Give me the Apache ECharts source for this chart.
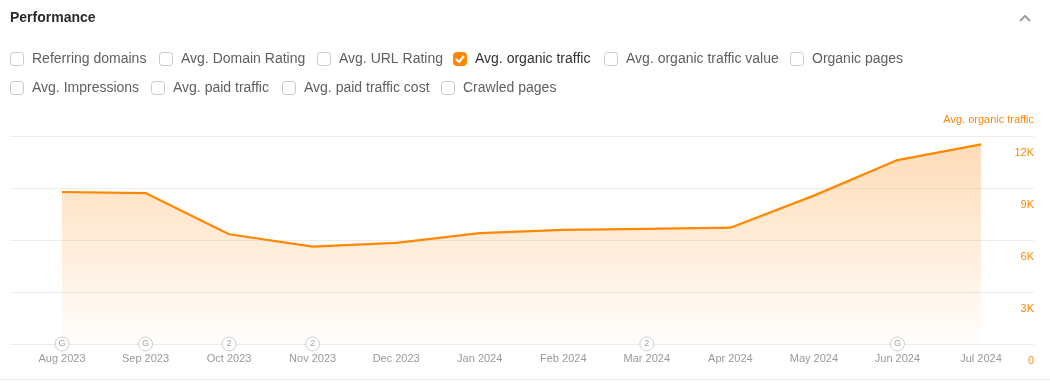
<!DOCTYPE html>
<html>
<head>
<meta charset="utf-8">
<script src="https://cdn.jsdelivr.net/npm/echarts@6/dist/echarts.min.js"></script>
<style>
html,body{margin:0;padding:0;background:#fff;}
#chart{width:1050px;height:388px;}
</style>
</head>
<body>
<div id="chart"></div>
<script>
// ---- data ----
const months = ['Aug 2023','Sep 2023','Oct 2023','Nov 2023','Dec 2023','Jan 2024','Feb 2024','Mar 2024','Apr 2024','May 2024','Jun 2024','Jul 2024'];
const organicTraffic = [8770, 8710, 6330, 5620, 5830, 6400, 6580, 6640, 6710, 8560, 10610, 11520];
const annotationMonths = ['Aug 2023','Sep 2023','Oct 2023','Nov 2023','Mar 2024','Jun 2024'];
const annotationTexts = ['G','G','2','2','2','G'];
const yTicks = [0, 3000, 6000, 9000, 12000];
const yTickLabels = ['0','3K','6K','9K','12K'];
const axisTitle = 'Avg. organic traffic';
const metricsRow1 = ['Referring domains','Avg. Domain Rating','Avg. URL Rating','Avg. organic traffic','Avg. organic traffic value','Organic pages'];
const metricsRow2 = ['Avg. Impressions','Avg. paid traffic','Avg. paid traffic cost','Crawled pages'];
const checkedMetric = 'Avg. organic traffic';

const FONT = '"Liberation Sans", Arial, Helvetica, sans-serif';
const ORANGE = '#ff8800';

// checkbox layout (left x of each box)
const row1X = [10, 159, 317, 453, 604, 790];
const row2X = [10, 151, 282, 441];

function checkbox(label, x, y) {
  const checked = label === checkedMetric;
  const els = [];
  els.push({
    type: 'rect',
    shape: { x: x + 0.5, y: y - 6.5, width: 13, height: 13, r: 3 },
    style: checked ? { fill: ORANGE, stroke: ORANGE, lineWidth: 1 } : { fill: '#fff', stroke: '#c9c9c9', lineWidth: 1 },
    silent: true
  });
  if (checked) {
    els.push({
      type: 'polyline',
      shape: { points: [[x + 3.5, y + 0.5], [x + 6, y + 3], [x + 10.5, y - 2.5]] },
      style: { stroke: '#fff', lineWidth: 2, fill: null, lineCap: 'round', lineJoin: 'round' },
      silent: true
    });
  }
  els.push({
    type: 'text',
    style: {
      text: label, x: x + 22, y: y, verticalAlign: 'middle',
      font: '14px ' + FONT, fill: checked ? '#333333' : '#5f5f63'
    },
    silent: true
  });
  return els;
}

let graphics = [];
graphics.push({
  type: 'text',
  style: { text: 'Performance', x: 10, y: 18, verticalAlign: 'middle', font: 'bold 14px ' + FONT, fill: '#2b2b2b' },
  silent: true
});
graphics.push({
  type: 'polyline',
  shape: { points: [[1020, 21], [1025, 16], [1030, 21]] },
  style: { stroke: '#a0a0a0', lineWidth: 2, fill: null },
  silent: true
});
metricsRow1.forEach((m, i) => { graphics = graphics.concat(checkbox(m, row1X[i], 59)); });
metricsRow2.forEach((m, i) => { graphics = graphics.concat(checkbox(m, row2X[i], 88)); });
graphics.push({
  type: 'text',
  style: { text: axisTitle, x: 1034, y: 120, align: 'right', verticalAlign: 'middle', font: '11px ' + FONT, fill: ORANGE },
  silent: true
});
graphics.push({
  type: 'line',
  shape: { x1: 0, y1: 379.5, x2: 1050, y2: 379.5 },
  style: { stroke: '#e8e8e8', lineWidth: 1 },
  silent: true
});

const chart = echarts.init(document.getElementById('chart'), null, { renderer: 'canvas' });

const annotData = annotationMonths.map((m, i) => ({
  value: [m, 0],
  label: { formatter: annotationTexts[i] }
}));

const option = {
  animation: false,
  backgroundColor: '#fff',
  textStyle: { fontFamily: FONT },
  graphic: graphics,
  grid: [
    { left: 10, right: 16, top: 136, bottom: 44, containLabel: false, outerBoundsMode: 'none' },
    { left: 62, right: 69, top: 136, bottom: 44, containLabel: false, outerBoundsMode: 'none' }
  ],
  xAxis: [
    { gridIndex: 0, type: 'value', min: 0, max: 1, show: false },
    {
      gridIndex: 1, type: 'category', data: months, boundaryGap: false,
      axisLine: { show: false }, axisTick: { show: false }, splitLine: { show: false },
      axisLabel: { color: '#9a9a9a', fontSize: 11, margin: 9, interval: 0, fontFamily: FONT }
    }
  ],
  yAxis: [
    {
      gridIndex: 0, type: 'value', position: 'right', min: 0, max: 12000, interval: 3000,
      axisLine: { show: false }, axisTick: { show: false },
      splitLine: { lineStyle: { color: '#ececec', width: 1 } },
      axisLabel: {
        inside: true, margin: 0, color: ORANGE, fontSize: 11, fontFamily: FONT,
        verticalAlign: 'top', padding: [11, 0, 0, 0],
        formatter: v => yTickLabels[yTicks.indexOf(v)]
      }
    },
    { gridIndex: 1, type: 'value', min: 0, max: 12000, interval: 3000, show: false }
  ],
  series: [
    {
      type: 'line', xAxisIndex: 1, yAxisIndex: 1, data: organicTraffic,
      symbol: 'none', z: 3,
      lineStyle: { color: ORANGE, width: 2.2 },
      areaStyle: {
        color: new echarts.graphic.LinearGradient(0, 0, 0, 1, [
          { offset: 0, color: 'rgba(255,160,60,0.52)' },
          { offset: 1, color: 'rgba(255,160,60,0.02)' }
        ])
      }
    },
    {
      type: 'scatter', xAxisIndex: 1, yAxisIndex: 1, data: annotData,
      symbol: 'circle', symbolSize: 14, z: 5,
      itemStyle: { color: '#fff', borderColor: '#c4c4c4', borderWidth: 1 },
      label: { show: true, position: 'inside', color: '#8a8a8a', fontSize: 9, fontFamily: FONT }
    }
  ]
};
chart.setOption(option);
</script>
</body>
</html>
